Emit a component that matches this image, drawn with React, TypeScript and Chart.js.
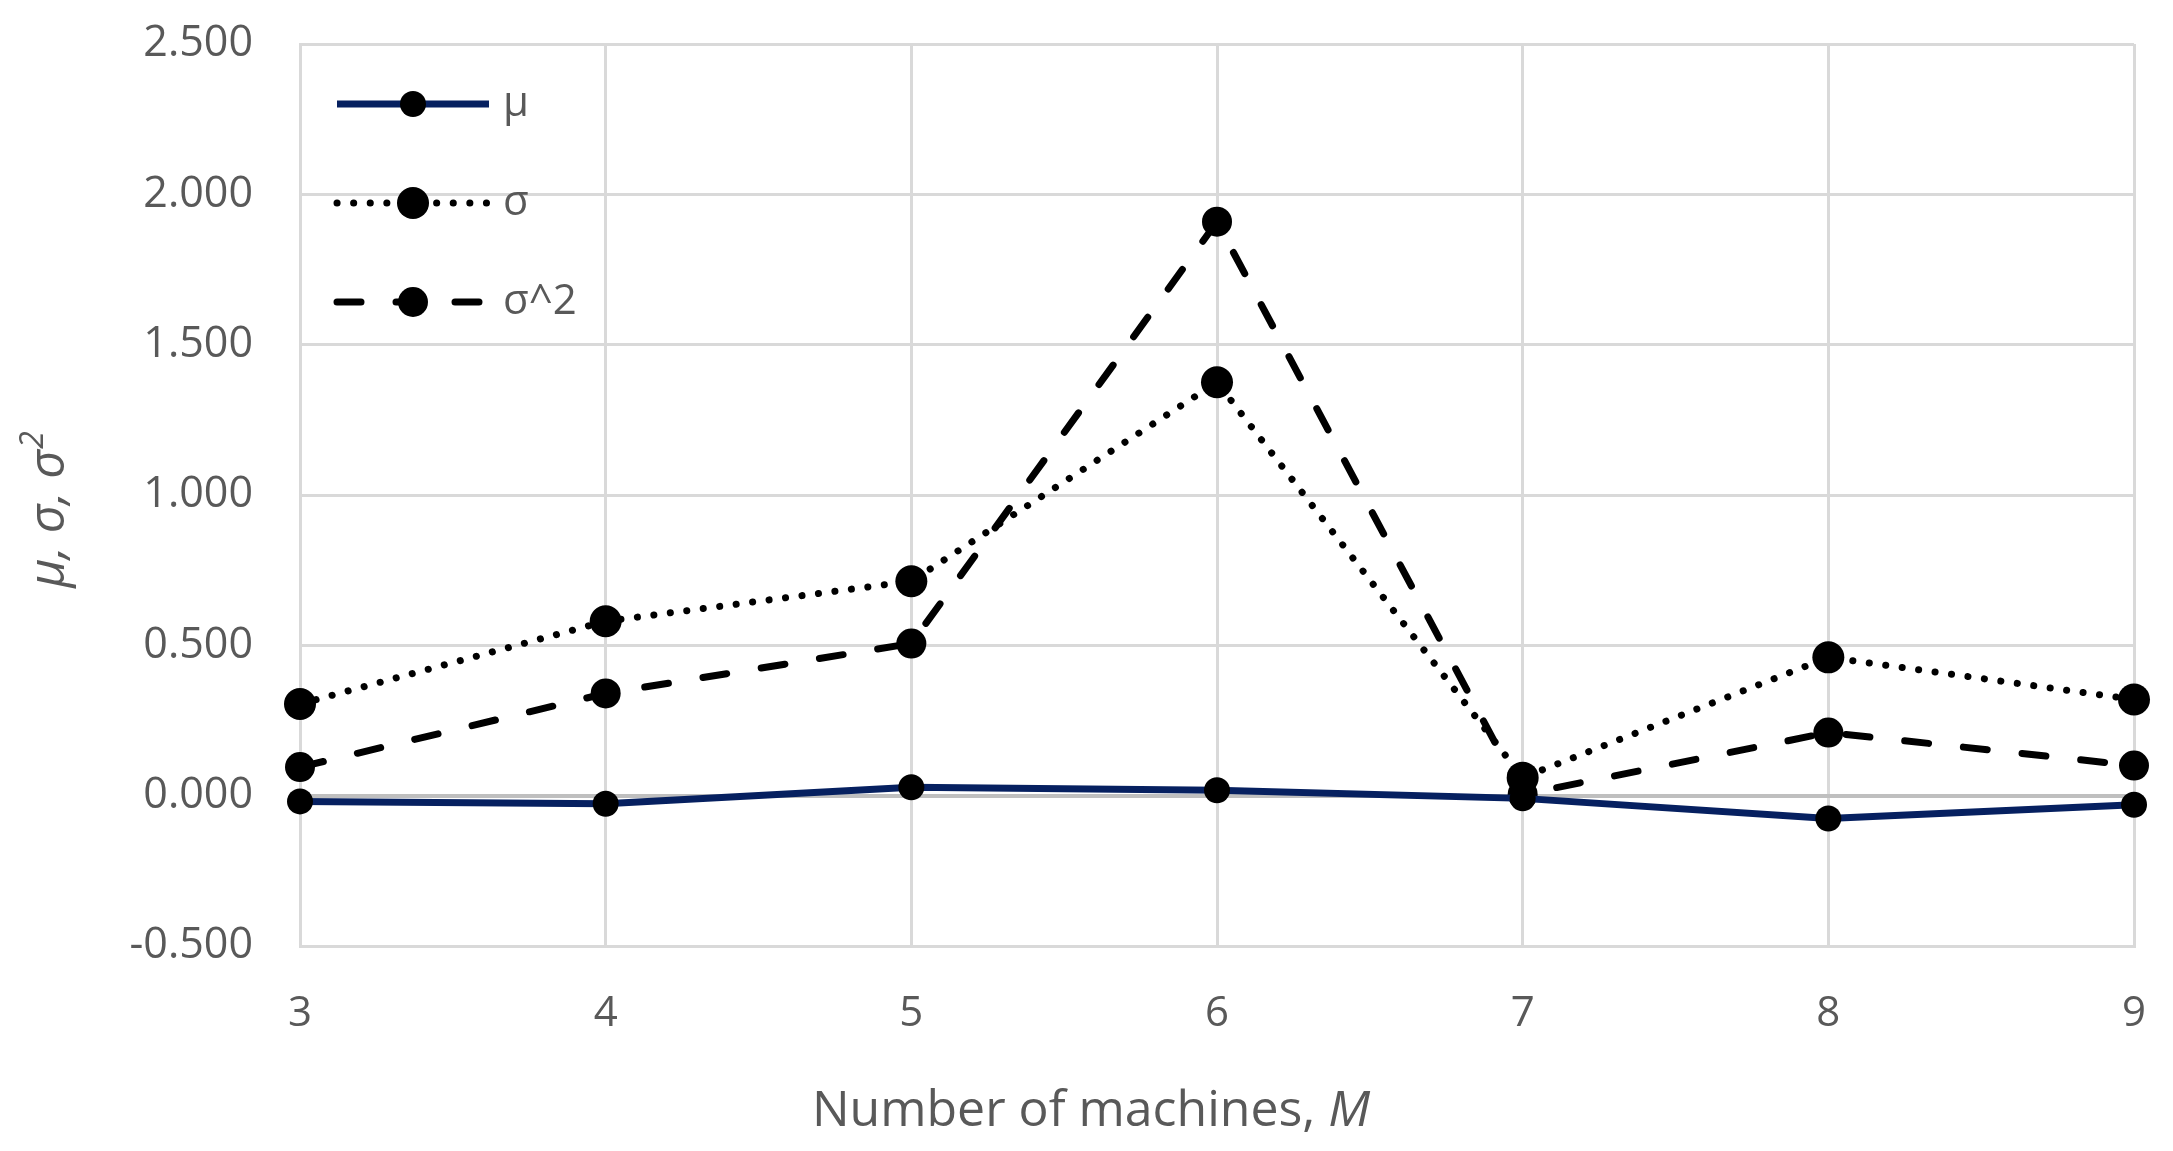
import { useEffect, useRef } from 'react';
import { Chart, registerables } from 'chart.js';

Chart.register(...registerables);

// number of machines on the x axis
const machines = ['3', '4', '5', '6', '7', '8', '9'];
// mean, standard deviation and variance per machine count
const muValues = [-0.019, -0.027, 0.028, 0.018, -0.009, -0.076, -0.03];
const sigmaValues = [0.305, 0.58, 0.713, 1.375, 0.06, 0.46, 0.32];
const sigmaSqValues = [0.095, 0.34, 0.506, 1.909, 0.004, 0.21, 0.1];
const seriesLabels = ['μ', 'σ', 'σ^2'];
const yMin = -0.5;
const yMax = 2.5;
const yStep = 0.5;

const FONT = '"Open Sans", sans-serif';
const GREY = '#595959';
const GRID = '#d9d9d9';
const ZERO_LINE = '#bfbfbf';

// axis titles (with italics) and the in-plot legend
const decorations = {
  id: 'decorations',
  afterDraw(chart: any) {
    const { ctx } = chart;
    ctx.save();
    ctx.fillStyle = GREY;
    ctx.textBaseline = 'middle';
    ctx.textAlign = 'left';

    // x axis title
    const xMain = 'Number of machines, ';
    ctx.font = `50px ${FONT}`;
    const w1 = ctx.measureText(xMain).width;
    ctx.font = `italic 50px ${FONT}`;
    const w2 = ctx.measureText('M').width;
    const tx = 1091 - (w1 + w2) / 2;
    ctx.font = `50px ${FONT}`;
    ctx.fillText(xMain, tx, 1112);
    ctx.font = `italic 50px ${FONT}`;
    ctx.fillText('M', tx + w1, 1112);

    // y axis title
    ctx.save();
    ctx.translate(50, 510);
    ctx.rotate(-Math.PI / 2);
    const yMainTxt = 'μ, σ, σ';
    ctx.font = `italic 50px ${FONT}`;
    const yw1 = ctx.measureText(yMainTxt).width;
    ctx.font = `italic 32px ${FONT}`;
    const yw2 = ctx.measureText('2').width;
    const sx = -(yw1 + yw2) / 2;
    ctx.font = `italic 50px ${FONT}`;
    ctx.fillText(yMainTxt, sx, 0);
    ctx.font = `italic 32px ${FONT}`;
    ctx.fillText('2', sx + yw1 + 1, -16);
    ctx.restore();

    // legend
    chart.data.datasets.forEach((ds: any, i: number) => {
      const y = 104 + i * 99;
      ctx.save();
      ctx.strokeStyle = ds.borderColor;
      ctx.lineWidth = ds.borderWidth;
      ctx.lineCap = ds.borderCapStyle || 'butt';
      ctx.setLineDash(ds.borderDash || []);
      ctx.beginPath();
      ctx.moveTo(337, y);
      ctx.lineTo(489, y);
      ctx.stroke();
      ctx.setLineDash([]);
      ctx.fillStyle = ds.pointBackgroundColor;
      ctx.beginPath();
      ctx.arc(413, y, ds.pointRadius, 0, Math.PI * 2);
      ctx.fill();
      ctx.restore();
      ctx.fillStyle = GREY;
      ctx.font = `42px ${FONT}`;
      ctx.fillText(ds.label, 503, y);
    });
    ctx.restore();
  },
};

export default function App() {
  const canvasRef = useRef<HTMLCanvasElement>(null);

  useEffect(() => {
    document.body.style.margin = '0';
    if (!canvasRef.current) return;

    const chart = new Chart(canvasRef.current, {
      type: 'line',
      data: {
        labels: machines,
        datasets: [
          {
            label: seriesLabels[0],
            data: muValues,
            borderColor: '#062060',
            borderWidth: 7,
            pointRadius: 13,
            pointBackgroundColor: '#000000',
            pointBorderColor: '#000000',
            pointBorderWidth: 0,
            tension: 0,
            clip: false,
          },
          {
            label: seriesLabels[1],
            data: sigmaValues,
            borderColor: '#000000',
            borderWidth: 7,
            borderDash: [0.1, 16.5],
            borderCapStyle: 'round',
            pointRadius: 16,
            pointBackgroundColor: '#000000',
            pointBorderColor: '#000000',
            pointBorderWidth: 0,
            tension: 0,
            clip: false,
          },
          {
            label: seriesLabels[2],
            data: sigmaSqValues,
            borderColor: '#000000',
            borderWidth: 7,
            borderDash: [24, 35],
            borderCapStyle: 'round',
            pointRadius: 15,
            pointBackgroundColor: '#000000',
            pointBorderColor: '#000000',
            pointBorderWidth: 0,
            tension: 0,
            clip: false,
          },
        ],
      },
      options: {
        responsive: true,
        maintainAspectRatio: false,
        animation: false,
        devicePixelRatio: 1,
        layout: { padding: { left: 0, top: 44, right: 39, bottom: 0 } },
        plugins: {
          legend: { display: false },
          tooltip: { enabled: false },
          title: { display: false },
        },
        scales: {
          x: {
            type: 'category',
            offset: false,
            grid: {
              color: GRID,
              lineWidth: 3,
              drawTicks: true,
              tickLength: 41,
              tickColor: 'rgba(0,0,0,0)',
              offset: false,
            },
            border: { color: GRID, width: 3 },
            ticks: {
              color: GREY,
              font: { family: FONT, size: 42 },
              padding: 2,
              maxRotation: 0,
            },
            afterFit: (scale: any) => {
              scale.height = 205;
            },
          },
          y: {
            min: yMin,
            max: yMax,
            grid: {
              color: (c: any) => (c.tick && c.tick.value === 0 ? ZERO_LINE : GRID),
              lineWidth: (c: any) => (c.tick && c.tick.value === 0 ? 4 : 3),
              drawTicks: true,
              tickLength: 45,
              tickColor: 'rgba(0,0,0,0)',
            },
            border: { color: GRID, width: 3 },
            ticks: {
              stepSize: yStep,
              color: GREY,
              font: { family: FONT, size: 43 },
              padding: 2,
              callback: (v: any) => Number(v).toFixed(3),
            },
            afterFit: (scale: any) => {
              scale.width = 300;
            },
          },
        },
      },
      plugins: [decorations],
    });

    return () => {
      chart.destroy();
    };
  }, []);

  return (
    <div style={{ width: 2173, height: 1151, position: 'relative', background: '#ffffff' }}>
      <canvas ref={canvasRef} />
    </div>
  );
}
